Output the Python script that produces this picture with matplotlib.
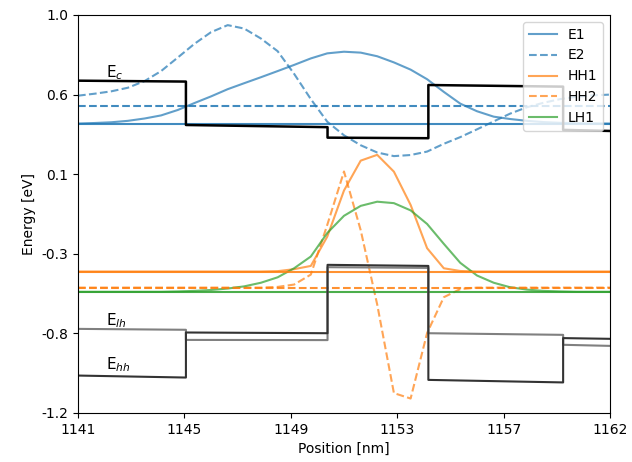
import matplotlib
matplotlib.use("Agg")
import matplotlib.pyplot as plt

# sampling grid of the subband wavefunctions [nm]
position = [1141.00, 1141.66, 1142.31, 1142.97, 1143.63, 1144.28, 1144.94,
            1145.59, 1146.25, 1146.91, 1147.56, 1148.22, 1148.88, 1149.53,
            1150.19, 1150.84, 1151.50, 1152.16, 1152.81, 1153.47, 1154.13,
            1154.78, 1155.44, 1156.09, 1156.75, 1157.41, 1158.06, 1158.72,
            1159.38, 1160.03, 1160.69, 1161.34, 1162.00]

# subband energies [eV]
level_e1 = 0.40
level_e2 = 0.497
level_hh1 = -0.418
level_hh2 = -0.507
level_lh1 = -0.53

# wavefunctions drawn on top of their energy level [eV]
psi_e1 = [0.400, 0.403, 0.407, 0.415, 0.428, 0.445, 0.475, 0.513, 0.550,
          0.590, 0.623, 0.656, 0.690, 0.724, 0.760, 0.788, 0.797, 0.792,
          0.772, 0.738, 0.698, 0.645, 0.575, 0.510, 0.468, 0.438, 0.425,
          0.415, 0.408, 0.404, 0.402, 0.401, 0.400]
psi_e2 = [0.554, 0.565, 0.578, 0.598, 0.635, 0.690, 0.765, 0.840, 0.905,
          0.944, 0.925, 0.870, 0.800, 0.675, 0.535, 0.410, 0.335, 0.280,
          0.240, 0.220, 0.226, 0.245, 0.288, 0.325, 0.368, 0.412, 0.455,
          0.490, 0.515, 0.535, 0.548, 0.556, 0.560]
psi_hh1 = [-0.418, -0.418, -0.418, -0.418, -0.418, -0.418, -0.418, -0.418,
           -0.418, -0.418, -0.418, -0.418, -0.416, -0.405, -0.387, -0.225,
           0.030, 0.195, 0.227, 0.134, -0.050, -0.289, -0.400, -0.415,
           -0.418, -0.418, -0.418, -0.418, -0.418, -0.418, -0.418, -0.418,
           -0.418]
psi_hh2 = [-0.507, -0.507, -0.507, -0.507, -0.507, -0.507, -0.507, -0.507,
           -0.507, -0.507, -0.507, -0.507, -0.503, -0.490, -0.435, -0.160,
           0.135, -0.190, -0.600, -1.090, -1.120, -0.758, -0.560, -0.515,
           -0.507, -0.507, -0.507, -0.507, -0.507, -0.507, -0.507, -0.507,
           -0.507]
psi_lh1 = [-0.530, -0.530, -0.530, -0.530, -0.530, -0.530, -0.528, -0.525,
           -0.520, -0.512, -0.500, -0.480, -0.450, -0.400, -0.335, -0.205,
           -0.110, -0.055, -0.032, -0.040, -0.080, -0.155, -0.265, -0.370,
           -0.440, -0.480, -0.505, -0.518, -0.525, -0.528, -0.530, -0.530,
           -0.530]

# layer interfaces [nm] and band edges at the left / right side of each layer [eV]
interfaces = [1141.0, 1145.26, 1150.85, 1154.83, 1160.15, 1162.0]
ec_left = [0.637, 0.392, 0.322, 0.613, 0.365]
ec_right = [0.632, 0.380, 0.319, 0.604, 0.359]
ehh_left = [-0.993, -0.755, -0.381, -1.017, -0.786]
ehh_right = [-1.004, -0.759, -0.387, -1.031, -0.790]
elh_left = [-0.735, -0.796, -0.394, -0.759, -0.823]
elh_right = [-0.740, -0.797, -0.398, -0.768, -0.829]

xtick_pos = [1141, 1145.2, 1149.4, 1153.6, 1157.8, 1162]
xtick_labels = ["1141", "1145", "1149", "1153", "1157", "1162"]
ytick_pos = [-1.2, -0.76, -0.32, 0.12, 0.56, 1.0]
ytick_labels = ["-1.2", "-0.8", "-0.3", "0.1", "0.6", "1.0"]


def band_path(left, right):
    xs, ys = [], []
    for i in range(len(left)):
        xs += [interfaces[i], interfaces[i + 1]]
        ys += [left[i], right[i]]
    return xs, ys


fig = plt.figure(figsize=(6.32, 4.62), dpi=100)
ax = fig.add_axes([78 / 632, 1 - 413 / 462, 532 / 632, 398 / 462])

blue, orange, green = "tab:blue", "tab:orange", "tab:green"

ax.plot(position, psi_e1, color=blue, alpha=0.7, lw=1.5, label="E1")
ax.plot(position, psi_e2, color=blue, alpha=0.7, lw=1.5, ls="--", label="E2")
ax.plot(position, psi_hh1, color=orange, alpha=0.7, lw=1.5, label="HH1")
ax.plot(position, psi_hh2, color=orange, alpha=0.7, lw=1.5, ls="--", label="HH2")
ax.plot(position, psi_lh1, color=green, alpha=0.7, lw=1.5, label="LH1")

ax.axhline(level_e1, color=blue, alpha=0.85, lw=1.5)
ax.axhline(level_e2, color=blue, alpha=0.85, lw=1.5, ls="--")
ax.axhline(level_hh1, color=orange, alpha=0.85, lw=1.5)
ax.axhline(level_hh2, color=orange, alpha=0.85, lw=1.5, ls="--")
ax.axhline(level_lh1, color=green, alpha=0.85, lw=1.5)

# conduction and valence band edges
ax.plot(*band_path(ec_left, ec_right), color="k", lw=1.8)
ax.plot(*band_path(elh_left, elh_right), color="#808080", lw=1.5)
ax.plot(*band_path(ehh_left, ehh_right), color="#333333", lw=1.5)

ax.text(1142.1, 0.655, "E$_c$", fontsize=11, va="baseline")
ax.text(1142.1, -0.717, "E$_{lh}$", fontsize=11, va="baseline")
ax.text(1142.1, -0.961, "E$_{hh}$", fontsize=11, va="baseline")

ax.set_xlim(1141, 1162)
ax.set_ylim(-1.2, 1.0)
ax.set_xticks(xtick_pos)
ax.set_xticklabels(xtick_labels)
ax.set_yticks(ytick_pos)
ax.set_yticklabels(ytick_labels)
ax.set_xlabel("Position [nm]")
ax.set_ylabel("Energy [eV]")
ax.legend(loc="upper right")

fig.savefig("out.png", dpi=100)
